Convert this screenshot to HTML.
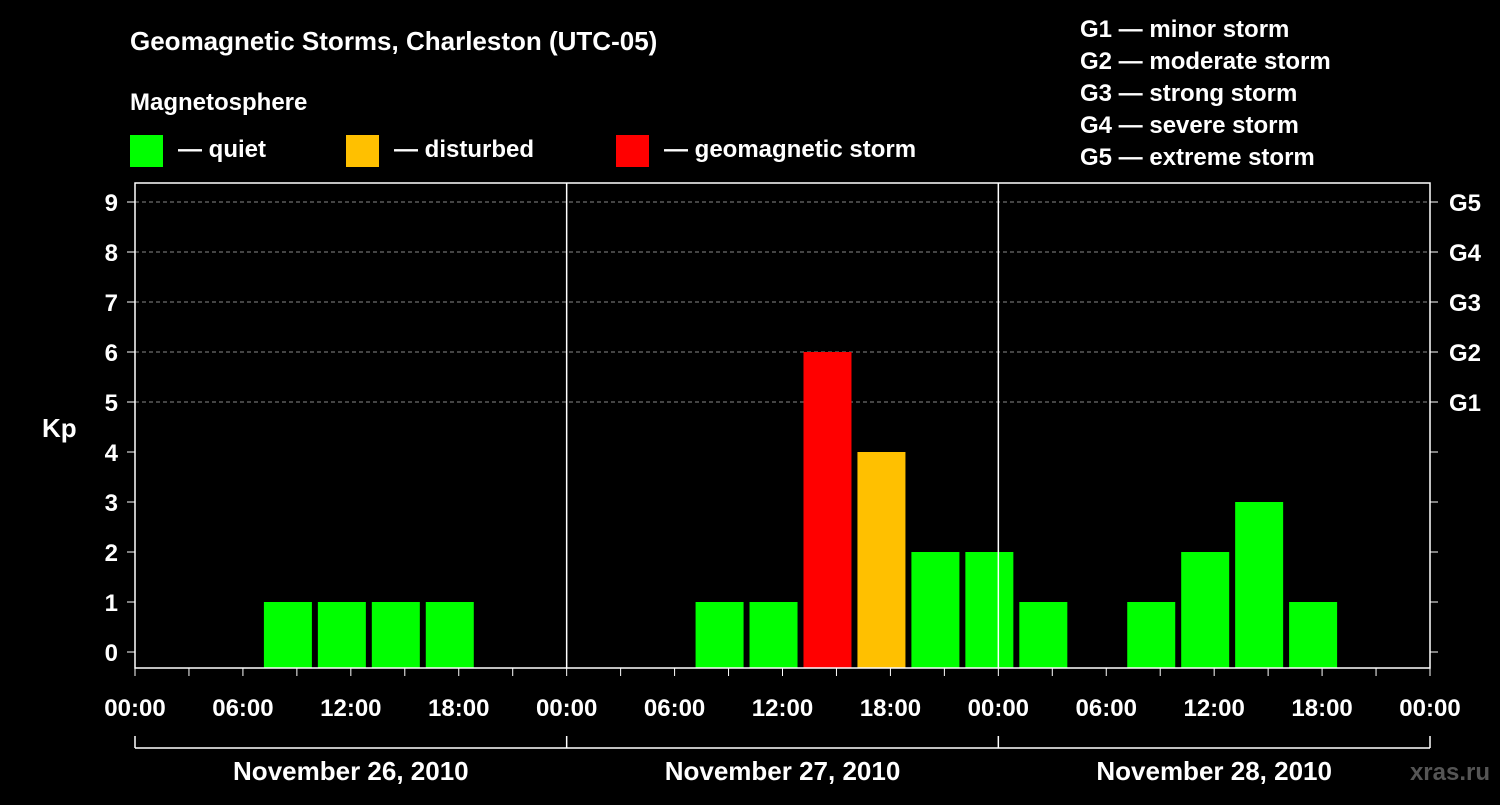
<!DOCTYPE html>
<html><head><meta charset="utf-8"><style>
body{margin:0;background:#000;width:1500px;height:800px;overflow:hidden}
svg text{font-family:"Liberation Sans",sans-serif;font-weight:bold;fill:#fff}
</style></head><body>
<svg id="c" width="1500" height="800">
<text x="130" y="50" font-size="26">Geomagnetic Storms, Charleston (UTC-05)</text>
<text x="130" y="110" font-size="24">Magnetosphere</text>
<rect x="130" y="135" width="33" height="32" fill="#00ff00"/>
<text x="178" y="157" font-size="24">— quiet</text>
<rect x="346" y="135" width="33" height="32" fill="#ffc000"/>
<text x="394" y="157" font-size="24">— disturbed</text>
<rect x="616" y="135" width="33" height="32" fill="#ff0000"/>
<text x="664" y="157" font-size="24">— geomagnetic storm</text>
<g font-size="24">
<text x="1080" y="37">G1 — minor storm</text>
<text x="1080" y="69">G2 — moderate storm</text>
<text x="1080" y="101">G3 — strong storm</text>
<text x="1080" y="133">G4 — severe storm</text>
<text x="1080" y="165">G5 — extreme storm</text>
</g>
<text x="42" y="437" font-size="26">Kp</text>
<text x="1490" y="780" font-size="24" fill="#555" style="fill:#555" text-anchor="end">xras.ru</text>
<g id="g"></g>
</svg>
<script>
const slotHours=[1,4,7,10,13,16,19,22,25,28,31,34,37,40,43,46,49,52,55,58,61,64,67];
const kpValues=[0,0,1,1,1,1,0,0,0,0,1,1,6,4,2,2,1,0,1,2,3,1,0];
const yTicks=[0,1,2,3,4,5,6,7,8,9];
const gLabels=["G1","G2","G3","G4","G5"];
const xLabels=["00:00","06:00","12:00","18:00","00:00","06:00","12:00","18:00","00:00","06:00","12:00","18:00","00:00"];
const dayLabels=["November 26, 2010","November 27, 2010","November 28, 2010"];
const L=135,R=1430,T=183,B=668,HOURS=72;
const x=h=>L+h*(R-L)/HOURS;
const y=v=>652-v*50;
const g=document.getElementById('g');
const NS='http://www.w3.org/2000/svg';
function mk(t,a,txt){const e=document.createElementNS(NS,t);for(const k in a)e.setAttribute(k,a[k]);if(txt!==undefined)e.textContent=txt;g.appendChild(e);return e;}
yTicks.forEach(v=>{
 if(v>=5){const l=mk('line',{x1:L,x2:R,y1:y(v),y2:y(v),stroke:'#888','stroke-dasharray':'4,3','stroke-width':1});
 
 }
 const t=mk('text',{x:118,y:y(v)+9,'font-size':24,'text-anchor':'end'},String(v));
 
 
 mk('line',{x1:L-8,x2:L,y1:y(v),y2:y(v),stroke:'#fff','stroke-width':1});
 mk('line',{x1:R,x2:R+8,y1:y(v),y2:y(v),stroke:'#fff','stroke-width':1});
});
gLabels.forEach((s,i)=>{const t=mk('text',{x:1449,y:y(5+i)+9,'font-size':24},s);
 
 });
slotHours.forEach((h,i)=>{const v=kpValues[i];if(!v)return;
 const col=v>=5?'#ff0000':v>=4?'#ffc000':'#00ff00';
 const r=mk('rect',{x:x(h)+3,y:y(v),width:48,height:B-y(v),fill:col});
 
 });
const f=mk('rect',{x:L,y:T,width:R-L,height:B-T,fill:'none',stroke:'#fff','stroke-width':1.5});


[24,48].forEach(h=>{const l=mk('line',{x1:x(h),x2:x(h),y1:T,y2:B,stroke:'#fff','stroke-width':1.5});
 
 });
for(let h=0;h<=HOURS;h+=3)mk('line',{x1:x(h),x2:x(h),y1:B,y2:B+8,stroke:'#fff','stroke-width':1});
xLabels.forEach((s,i)=>{const t=mk('text',{x:x(i*6),y:716,'font-size':24,'text-anchor':'middle'},s);
 
 });
mk('line',{x1:L,x2:R,y1:748,y2:748,stroke:'#fff','stroke-width':1.5});
[0,24,48,72].forEach(h=>mk('line',{x1:x(h),x2:x(h),y1:736,y2:748,stroke:'#fff','stroke-width':1.5}));
dayLabels.forEach((s,i)=>{const t=mk('text',{x:x(i*24+12),y:780,'font-size':26,'text-anchor':'middle'},s);
 
 });
</script>
</body></html>
